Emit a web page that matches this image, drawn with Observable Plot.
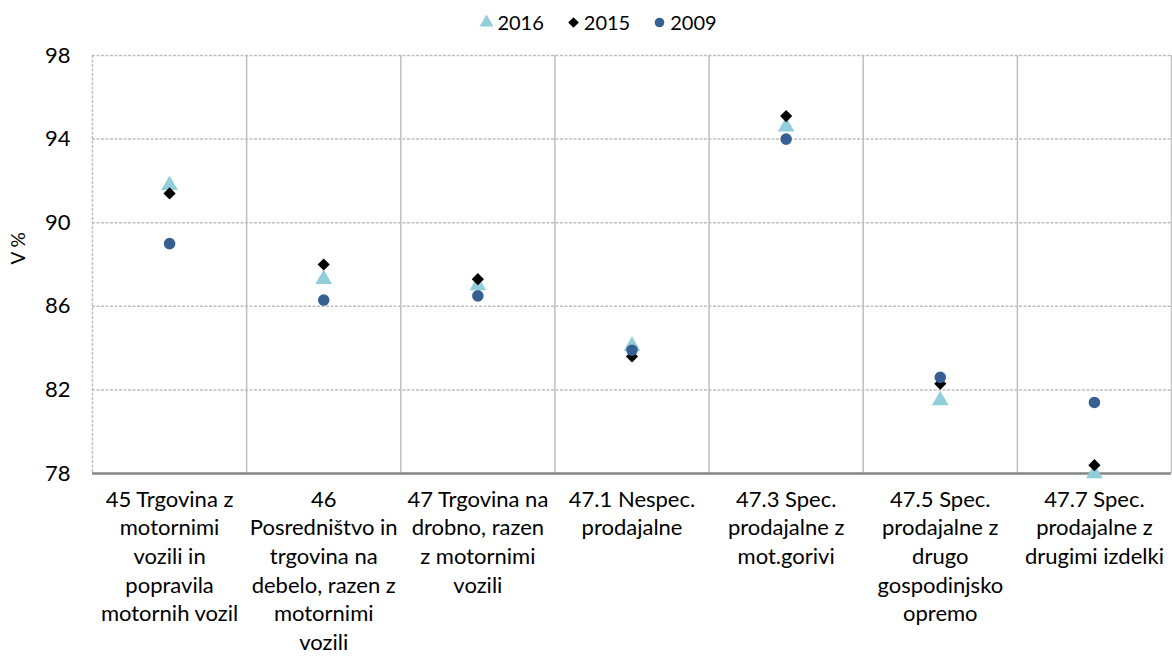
<!DOCTYPE html>
<html><head><meta charset="utf-8">
<script src="https://cdn.jsdelivr.net/npm/d3@7"></script>
<script src="https://cdn.jsdelivr.net/npm/@observablehq/plot@0.6"></script>
<style>
body{margin:0;background:#fff;font-family:Lato,"Open Sans",sans-serif;color:#000;}
#legend{height:40px;display:flex;justify-content:center;align-items:center;gap:22px;font-size:20px;padding-left:24px;padding-top:4px;box-sizing:border-box;}
#legend .item{display:flex;align-items:center;gap:4px;}
#chart svg{display:block;}
</style></head><body>
<div id="legend"></div><div id="chart"></div>
<script>
const categories = [
  "45 Trgovina z\nmotornimi\nvozili in\npopravila\nmotornih vozil",
  "46\nPosredništvo in\ntrgovina na\ndebelo, razen z\nmotornimi\nvozili",
  "47 Trgovina na\ndrobno, razen\nz motornimi\nvozili",
  "47.1 Nespec.\nprodajalne",
  "47.3 Spec.\nprodajalne z\nmot.gorivi",
  "47.5 Spec.\nprodajalne z\ndrugo\ngospodinjsko\nopremo",
  "47.7 Spec.\nprodajalne z\ndrugimi izdelki"
];
const years = ["2016", "2015", "2009"];
const values2016 = [91.8, 87.3, 87.0, 84.1, 94.6, 81.5, 78.0];
const values2015 = [91.4, 88.0, 87.3, 83.6, 95.1, 82.3, 78.4];
const values2009 = [89.0, 86.3, 86.5, 83.9, 94.0, 82.6, 81.4];
const yTicks = [78, 82, 86, 90, 94, 98];
const yLabel = "V %";

const colors = {"2016": "#92cddc", "2015": "#000000", "2009": "#366092"};
const symbols = {"2016": "triangle", "2015": "diamond2", "2009": "circle"};
const radii = {"2016": 6.2, "2015": 5.5, "2009": 5.8};

const series = {"2016": values2016, "2015": values2015, "2009": values2009};
const rows = years.flatMap(y => categories.map((c, i) => ({i, cat: c, year: y, v: series[y][i]})));

// legend
const legend = document.getElementById("legend");
for (const y of years) {
  const item = document.createElement("div");
  item.className = "item";
  const sw = Plot.plot({
    width: 14, height: 14, margin: 0, x: {domain: [0, 1], axis: null}, y: {domain: [0, 1], axis: null},
    marks: [Plot.dot([0], {x: () => 0.5, y: () => 0.5, symbol: () => symbols[y], fill: colors[y], r: y === "2016" ? 5.2 : 4.8})]
  });
  item.appendChild(sw);
  const t = document.createElement("span");
  t.textContent = y;
  item.appendChild(t);
  legend.appendChild(item);
}

const dotMark = (y) => Plot.dot(rows.filter(d => d.year === y), {
  x: d => d.i + 0.5, y: "v", symbol: () => symbols[y], fill: colors[y], r: radii[y], stroke: "none"
});

const plot = Plot.plot({
  width: 1172, height: 617,
  marginLeft: 92, marginRight: 1, marginTop: 15, marginBottom: 184,
  x: {domain: [0, categories.length]},
  y: {domain: [yTicks[0], yTicks[yTicks.length - 1]]},
  style: {fontFamily: "Lato, 'Open Sans', sans-serif", fontSize: "19px", color: "#000", background: "#fff"},
  marks: [
    Plot.ruleY(yTicks.slice(1), {stroke: "#bfbfbf", strokeWidth: 1.5, strokeDasharray: "3,1.5"}),
    Plot.ruleX([0], {stroke: "#bfbfbf", strokeWidth: 1.5, strokeDasharray: "3,1.5"}),
    Plot.ruleX(d3.range(1, categories.length + 1), {stroke: "#bfbfbf", strokeWidth: 1.5}),
    Plot.ruleY([yTicks[0]], {stroke: "#868686", strokeWidth: 2.5}),
    Plot.axisY({ticks: yTicks, tickSize: 0, tickPadding: 22, fontSize: 22, label: null}),
    Plot.axisX({
      ticks: categories.map((c, i) => i + 0.5),
      tickFormat: t => categories[Math.floor(t)],
      tickSize: 0, tickPadding: 13, label: null, lineHeight: 1.3, fontSize: 22
    }),
    Plot.text([yLabel], {frameAnchor: "left", text: d => d, rotate: -90, dx: -74, fontSize: 19}),
    dotMark("2016"),
    dotMark("2015"),
    dotMark("2009")
  ]
});
document.getElementById("chart").appendChild(plot);
</script>
</body></html>
